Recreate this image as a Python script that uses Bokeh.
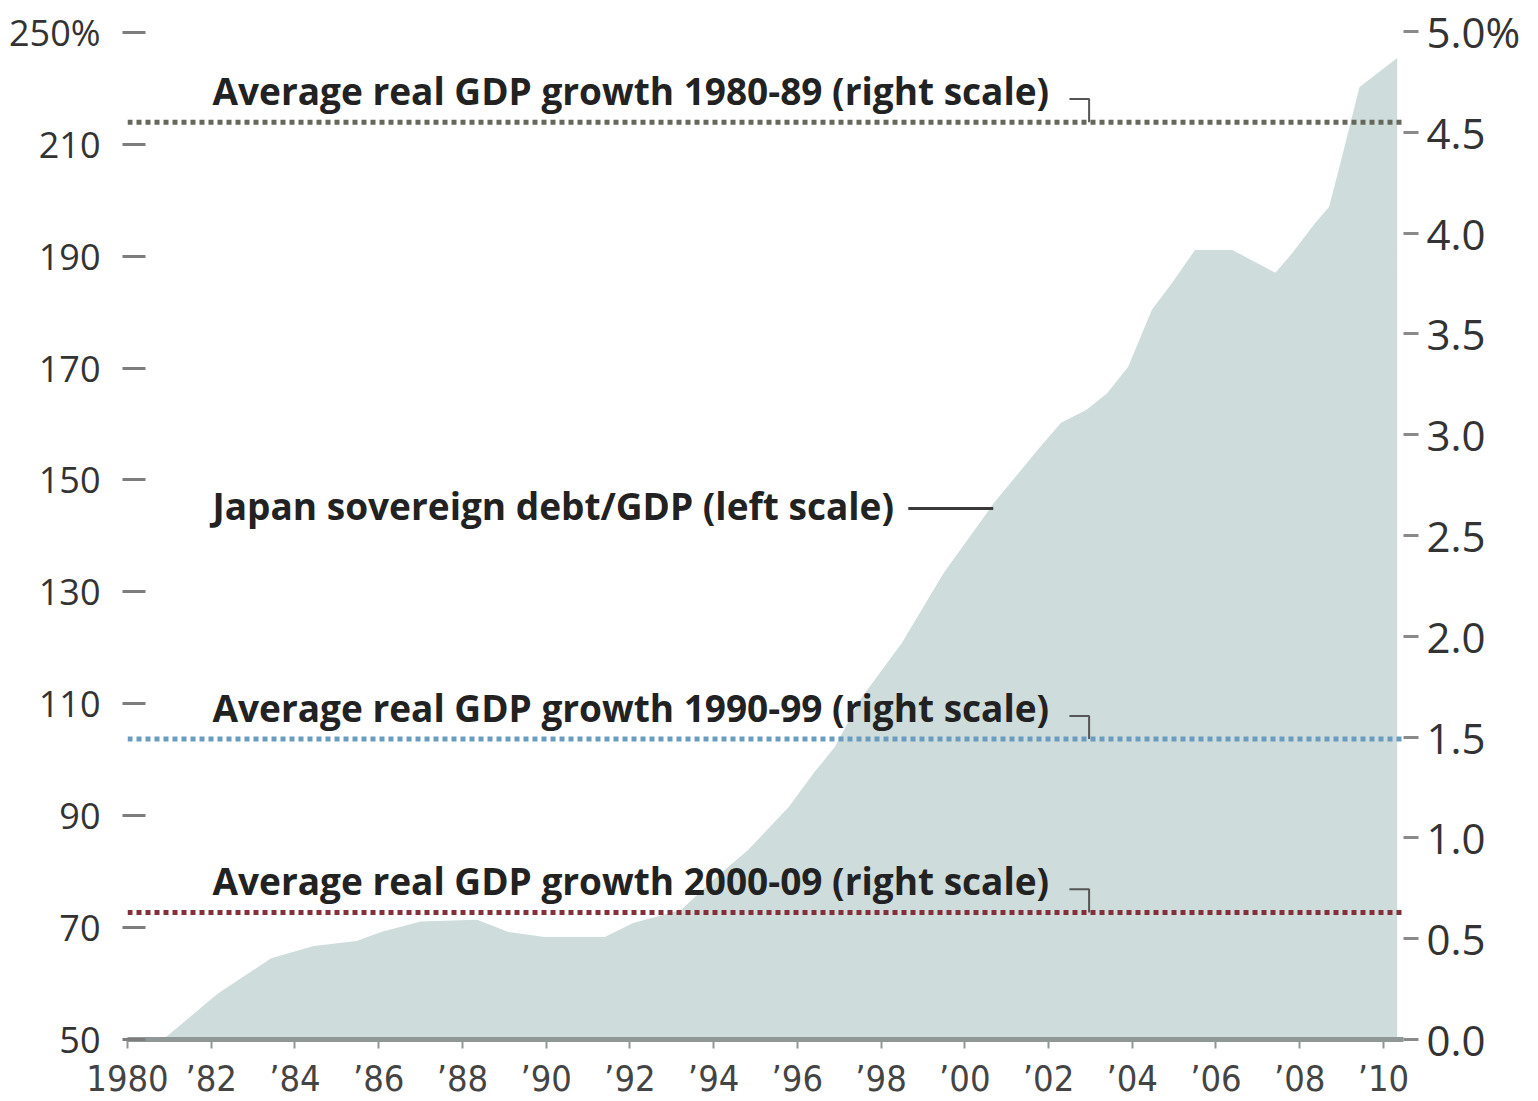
from bokeh.plotting import figure
from bokeh.models import Range1d, LinearAxis, FixedTicker, Span
from bokeh.embed import file_html
from bokeh.resources import INLINE
from bokeh.core.properties import value

# Japan sovereign debt as % of GDP (left scale)
debt_year = [1980.85, 1982.16, 1983.43, 1984.45, 1985.47, 1986.06, 1987.0, 1988.35,
             1989.1, 1989.96, 1991.4, 1992.08, 1992.65, 1993.23, 1994.0, 1994.83,
             1995.8, 1996.4, 1996.9, 1997.5, 1998.5, 1999.5, 2000.7, 2001.8,
             2002.3, 2002.9, 2003.4, 2003.9, 2004.47, 2004.95, 2005.5, 2006.39,
             2007.42, 2007.82, 2008.37, 2008.7, 2008.95, 2009.43, 2009.74, 2010.33]
debt_pct = [50.0, 58.2, 64.5, 66.7, 67.6, 69.2, 71.1, 71.4,
            69.2, 68.3, 68.3, 70.8, 72.0, 73.2, 78.6, 83.9,
            91.6, 97.7, 102.3, 110.7, 120.9, 133.4, 145.9, 155.9,
            160.2, 162.5, 165.5, 170.2, 180.4, 185.2, 191.1, 191.1,
            187.0, 190.5, 195.9, 198.75, 205.9, 220.2, 222.0, 225.4]

# Average real GDP growth by decade, % (right scale)
decades = ["1980-89", "1990-99", "2000-09"]
avg_growth = [4.55, 1.49, 0.63]
growth_colors = ["#65685a", "#6a9cbf", "#84303a"]

# Axis ticks and labels
left_ticks = [50, 70, 90, 110, 130, 150, 170, 190, 210, 230]
left_tick_labels = ["50", "70", "90", "110", "130", "150", "170", "190", "210", "250%"]
right_ticks = [0.0, 0.5, 1.0, 1.5, 2.0, 2.5, 3.0, 3.5, 4.0, 4.5, 5.0]
right_tick_labels = ["0.0", "0.5", "1.0", "1.5", "2.0", "2.5", "3.0", "3.5", "4.0", "4.5", "5.0%"]
year_ticks = [1980, 1982, 1984, 1986, 1988, 1990, 1992, 1994, 1996, 1998,
              2000, 2002, 2004, 2006, 2008, 2010]
year_tick_labels = ["1980", "’82", "’84", "’86", "’88", "’90", "’92", "’94", "’96", "’98",
                    "’00", "’02", "’04", "’06", "’08", "’10"]

LEFT_MIN, LEFT_MAX = 50, 232.1
LEFT_PER_RIGHT = 36.03  # left-scale units per right-scale unit

p = figure(width=1538, height=1101, output_backend="svg", toolbar_location=None,
           x_range=Range1d(1980, 2010.48), y_range=Range1d(LEFT_MIN, LEFT_MAX),
           min_border_left=127, min_border_right=135, min_border_top=20,
           min_border_bottom=61, background_fill_color="white",
           border_fill_color="white")
p.extra_y_ranges = {"right": Range1d(0, (LEFT_MAX - LEFT_MIN) / LEFT_PER_RIGHT)}
p.xgrid.visible = False
p.ygrid.visible = False
p.outline_line_color = None

# debt/GDP area
p.varea(x=debt_year, y1=LEFT_MIN, y2=debt_pct, fill_color="#cedcdb")

# decade growth reference lines
for g, c in zip(avg_growth, growth_colors):
    p.add_layout(Span(location=g, dimension="width", y_range_name="right",
                      line_color=c, line_width=5, line_dash="5 4"))

LABEL_X = 1982.03
BRACKET_X0, BRACKET_X1, BRACKET_H = 2002.5, 2002.97, 0.115

p.text(x=[LABEL_X] * len(decades), y=avg_growth,
       text=[f"Average real GDP growth {d} (right scale)" for d in decades],
       y_range_name="right", y_offset=-32, text_baseline="alphabetic",
       text_align="left", text_font=value("Open Sans"), text_font_style="bold",
       text_font_size="37px", text_color="#222222")
p.multi_line(xs=[[BRACKET_X0, BRACKET_X1, BRACKET_X1] for _ in avg_growth],
             ys=[[g + BRACKET_H, g + BRACKET_H, g] for g in avg_growth],
             y_range_name="right", line_color="#555555", line_width=2)

# debt series label with leader line
DEBT_LABEL_Y = 145.4
p.text(x=[LABEL_X], y=[DEBT_LABEL_Y], text=["Japan sovereign debt/GDP (left scale)"],
       text_baseline="middle", text_align="left", text_font=value("Open Sans"),
       text_font_style="bold", text_font_size="37px", text_color="#222222")
p.line(x=[1998.65, 2000.68], y=[DEBT_LABEL_Y - 0.5, DEBT_LABEL_Y - 0.5],
       line_color="#3a3a3a", line_width=3)

# left axis
ya = p.yaxis[0]
ya.ticker = FixedTicker(ticks=left_ticks)
ya.major_label_overrides = dict(zip(left_ticks, left_tick_labels))
ya.axis_line_color = None
ya.major_tick_in = 18
ya.major_tick_out = 5
ya.major_tick_line_color = "#7d7d7d"
ya.major_tick_line_width = 3
ya.minor_tick_line_color = None
ya.major_label_standoff = 22
ya.major_label_text_font = "Open Sans"
ya.major_label_text_font_size = "36px"
ya.major_label_text_color = "#333333"

# right axis
ra = LinearAxis(y_range_name="right", ticker=FixedTicker(ticks=right_ticks))
ra.major_label_overrides = dict(zip(right_ticks, right_tick_labels))
ra.axis_line_color = None
ra.major_tick_in = 0
ra.major_tick_out = 15
ra.major_tick_line_color = "#8a8a8a"
ra.major_tick_line_width = 3
ra.minor_tick_line_color = None
ra.major_label_standoff = 8
ra.major_label_text_font = "Open Sans"
ra.major_label_text_font_size = "42px"
ra.major_label_text_color = "#333333"
p.add_layout(ra, "right")

# year axis
xa = p.xaxis[0]
xa.ticker = FixedTicker(ticks=year_ticks)
xa.major_label_overrides = dict(zip(year_ticks, year_tick_labels))
xa.axis_line_color = "#8f9797"
xa.axis_line_width = 5
xa.major_tick_in = 0
xa.major_tick_out = 9
xa.major_tick_line_color = "#8f9797"
xa.major_tick_line_width = 2
xa.minor_tick_line_color = None
xa.major_label_standoff = 9
xa.major_label_text_font = "DejaVu Sans Condensed"
xa.major_label_text_font_size = "36px"
xa.major_label_text_color = "#444444"

open("out.html", "w").write(file_html(p, INLINE))
